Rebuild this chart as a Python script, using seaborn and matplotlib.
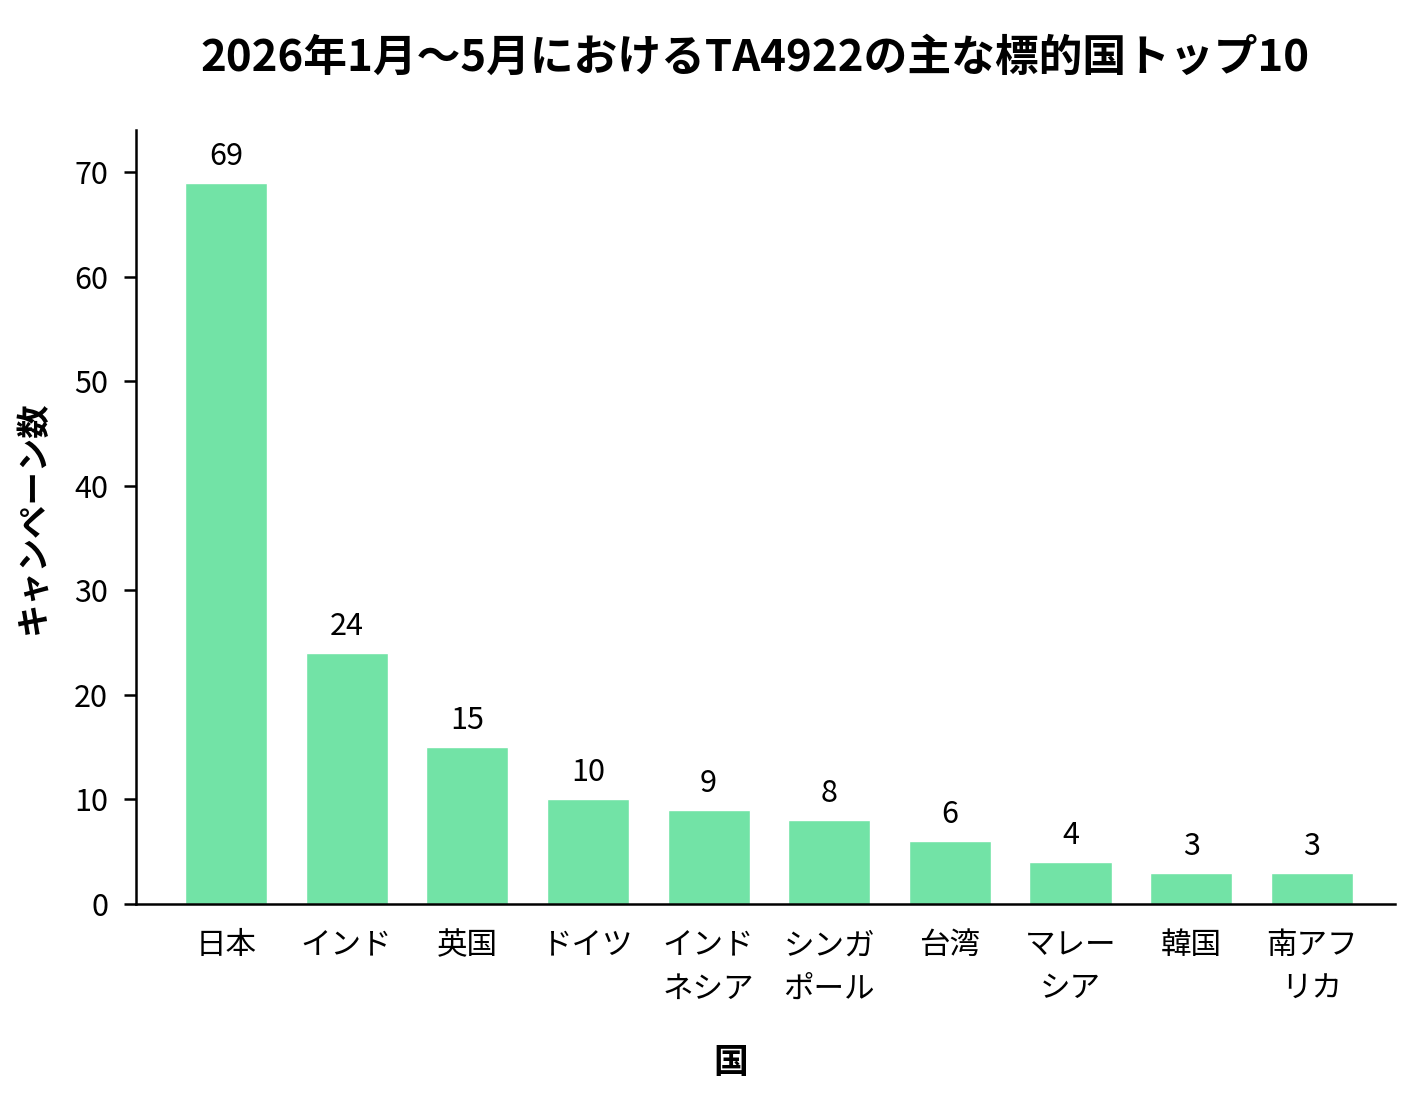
import matplotlib
matplotlib.use("Agg")
import matplotlib.pyplot as plt
import seaborn as sns
import pandas as pd

countries = ["日本", "インド", "英国", "ドイツ", "インド\nネシア", "シンガ\nポール",
             "台湾", "マレー\nシア", "韓国", "南アフ\nリカ"]
campaigns = [69, 24, 15, 10, 9, 8, 6, 4, 3, 3]
yticks = [0, 10, 20, 30, 40, 50, 60, 70]
title = "2026年1月〜5月におけるTA4922の主な標的国トップ10"
xlabel = "国"
ylabel = "キャンペーン数"

sns.set_theme(style="white")
plt.rcParams['font.family'] = ['Noto Sans CJK JP', 'DejaVu Sans']
plt.rcParams['text.color'] = 'black'
plt.rcParams['xtick.color'] = 'black'
plt.rcParams['ytick.color'] = 'black'
plt.rcParams['axes.labelcolor'] = 'black'

df = pd.DataFrame({"country": countries, "count": campaigns})

fig = plt.figure(figsize=(14.11, 11.14), dpi=100)
ax = fig.add_axes([0.0964, 0.1885, 0.8923, 0.6945])
sns.barplot(data=df, x="country", y="count", color="#72E3A6", saturation=1,
            width=0.68, ax=ax)

for c in ax.containers:
    ax.bar_label(c, labels=[str(v) for v in campaigns], padding=8, fontsize=22,
                 color="black")

ax.set_ylim(0, 74)
ax.set_xlim(-0.745, 9.69)
ax.set_yticks(yticks)
ax.tick_params(axis='y', labelsize=22, length=9, width=1.8, left=True, pad=11)
ax.tick_params(axis='x', labelsize=22, length=0, pad=19)
for lbl in ax.get_xticklabels():
    lbl.set_linespacing(1.5)
    lbl.set_verticalalignment('top')

sns.despine(ax=ax)
for s in ["left", "bottom"]:
    ax.spines[s].set_color("black")
    ax.spines[s].set_linewidth(1.8)

ax.set_xlabel(xlabel, fontsize=25, fontweight="bold")
ax.xaxis.set_label_coords(0.472, -0.182)
ax.set_ylabel(ylabel, fontsize=24, fontweight="bold", labelpad=18)
fig.suptitle(title, fontsize=31.5, fontweight="bold", x=0.535, y=0.968)

fig.savefig("out.png", dpi=100, facecolor="white")
